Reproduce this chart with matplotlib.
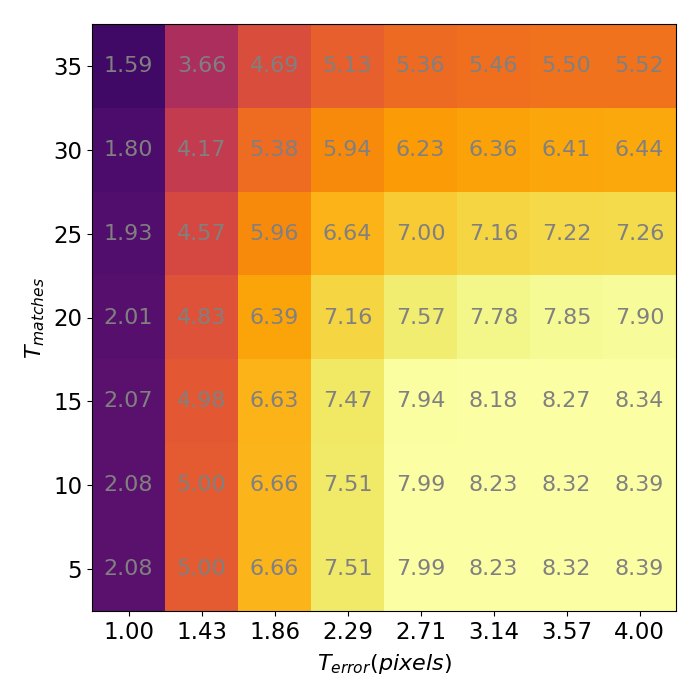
import numpy as np
import matplotlib.pyplot as plt

# tick labels
t_error = ["1.00", "1.43", "1.86", "2.29", "2.71", "3.14", "3.57", "4.00"]
t_matches = ["35", "30", "25", "20", "15", "10", "5"]

# values, top row first
row_35 = [1.59, 3.66, 4.69, 5.13, 5.36, 5.46, 5.50, 5.52]
row_30 = [1.80, 4.17, 5.38, 5.94, 6.23, 6.36, 6.41, 6.44]
row_25 = [1.93, 4.57, 5.96, 6.64, 7.00, 7.16, 7.22, 7.26]
row_20 = [2.01, 4.83, 6.39, 7.16, 7.57, 7.78, 7.85, 7.90]
row_15 = [2.07, 4.98, 6.63, 7.47, 7.94, 8.18, 8.27, 8.34]
row_10 = [2.08, 5.00, 6.66, 7.51, 7.99, 8.23, 8.32, 8.39]
row_5 = [2.08, 5.00, 6.66, 7.51, 7.99, 8.23, 8.32, 8.39]

data = np.array([row_35, row_30, row_25, row_20, row_15, row_10, row_5])

fig = plt.figure(figsize=(7, 7), dpi=100)
ax = fig.add_axes([92 / 700, 1 - 611 / 700, 584 / 700, 587 / 700])
ax.imshow(data, cmap="inferno", vmin=0, vmax=8.0, aspect="auto")

ax.set_xticks(np.arange(len(t_error)))
ax.set_xticklabels(t_error, fontsize=16.5)
ax.set_yticks(np.arange(len(t_matches)))
ax.set_yticklabels(t_matches, fontsize=16.5)
ax.set_xlabel(r"$T_{error}(pixels)$", fontsize=16, labelpad=6)
ax.set_ylabel(r"$T_{matches}$", fontsize=16)

# cell values
for i in range(data.shape[0]):
    for j in range(data.shape[1]):
        ax.text(j, i, f"{data[i, j]:.2f}", ha="center", va="center", color="gray", fontsize=16)

fig.savefig("out.png", dpi=100)
